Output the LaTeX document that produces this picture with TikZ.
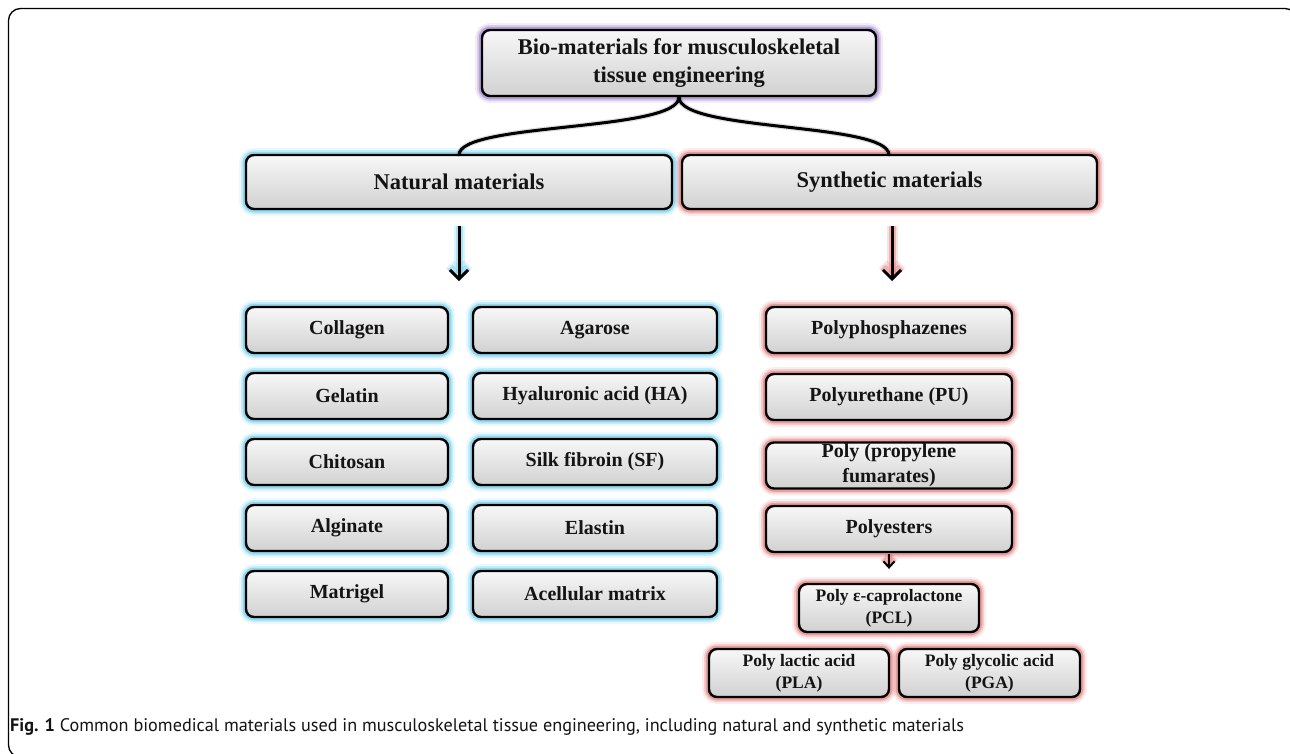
\documentclass[tikz,border=0pt]{standalone}
\usepackage{fontspec}
\setmainfont{Liberation Serif}
\newfontfamily\capfont{PT Sans}
\usetikzlibrary{arrows.meta}
\definecolor{natglow}{RGB}{95,200,235}
\definecolor{synglow}{RGB}{225,110,110}
\definecolor{topglow}{RGB}{150,115,195}
\definecolor{txt}{RGB}{20,20,20}
\tikzset{
  glowbox/.style={draw=black, line width=2.4pt, rounded corners=8pt,
    top color=gray!6, bottom color=gray!36, text=txt, align=center,
    inner sep=0pt, font=\bfseries,
    preaction={draw=#1, line width=14pt, draw opacity=0.12},
    preaction={draw=#1, line width=10pt, draw opacity=0.25},
    preaction={draw=#1, line width=6.5pt, draw opacity=0.5}},
  itemfont/.style={font=\bfseries\fontsize{20}{25}\selectfont},
  natbox/.style={glowbox=natglow, itemfont},
  synbox/.style={glowbox=synglow, itemfont},
  bigarrow/.style={line width=3pt, -{Straight Barb[length=9pt,width=18pt,line width=3pt]},
    preaction={draw=#1, line width=11pt, draw opacity=0.2, -{Straight Barb[length=9pt,width=18pt,line width=11pt]}},
    preaction={draw=#1, line width=7pt, draw opacity=0.4, -{Straight Barb[length=9pt,width=18pt,line width=7pt]}}},
  smallarrow/.style={line width=2pt, -{Straight Barb[length=6pt,width=11pt,line width=2pt]},
    preaction={draw=#1, line width=8pt, draw opacity=0.2, -{Straight Barb[length=6pt,width=11pt,line width=8pt]}},
    preaction={draw=#1, line width=5pt, draw opacity=0.4, -{Straight Barb[length=6pt,width=11pt,line width=5pt]}}},
  bracepath/.style={line width=3pt, line cap=round,
    preaction={draw=black, line width=5.5pt, draw opacity=0.12}},
}
\begin{document}
\begin{tikzpicture}[x=1pt,y=-1pt]
\useasboundingbox (0,0) rectangle (1290,753);
\fill[white] (0,0) rectangle (1290,753);
% frame
\draw[line width=1.3pt, rounded corners=12pt] (8.5,8.5) rectangle (1297,757);

% top
\node[glowbox=topglow, minimum width=394pt, minimum height=66pt,
  font=\bfseries\fontsize{22.5}{28}\selectfont] (top) at (679,63)
  {Bio-materials for musculoskeletal\\tissue engineering};

% categories
\node[glowbox=natglow, minimum width=426pt, minimum height=54pt,
  font=\bfseries\fontsize{22.5}{28}\selectfont] (nat) at (459,182) {Natural materials};
\node[glowbox=synglow, minimum width=415pt, minimum height=54pt,
  font=\bfseries\fontsize{22.5}{28}\selectfont] (syn) at (889.5,182) {Synthetic materials};

% brace
\coordinate (bt) at (679,97);
\coordinate (bl) at (459,155);
\coordinate (br) at (889,155);
\draw[bracepath] (bl) .. controls (459,122) and (679,132) .. (bt);
\draw[bracepath] (br) .. controls (889,122) and (679,132) .. (bt);

% arrows
\coordinate (na1) at (459,226);
\coordinate (na2) at (459,281);
\coordinate (sa1) at (892,226);
\coordinate (sa2) at (892,281);
\draw[bigarrow=natglow] (na1) -- (na2);
\draw[bigarrow=synglow] (sa1) -- (sa2);

% natural items
\foreach \t/\n [count=\i from 0] in {Collagen/n1,Gelatin/n2,Chitosan/n3,Alginate/n4,Matrigel/n5}
  \node[natbox, minimum width=202pt, minimum height=46pt] (\n) at (347,330+66*\i) {\t};
\foreach \t/\n [count=\i from 0] in {Agarose/m1,Hyaluronic acid (HA)/m2,Silk fibroin (SF)/m3,Elastin/m4,Acellular matrix/m5}
  \node[natbox, minimum width=244pt, minimum height=46pt] (\n) at (595,330+66*\i) {\t};

% synthetic items
\node[synbox, minimum width=246pt, minimum height=46pt] (s1) at (889,330) {Polyphosphazenes};
\node[synbox, minimum width=246pt, minimum height=46pt] (s2) at (889,397) {Polyurethane (PU)};
\node[synbox, minimum width=246pt, minimum height=46pt] (s3) at (889,465.5) {Poly (propylene\\fumarates)};
\node[synbox, minimum width=246pt, minimum height=46pt] (s4) at (889,529) {Polyesters};

\node[glowbox=synglow, minimum width=180pt, minimum height=48pt,
  font=\bfseries\fontsize{17.5}{22}\selectfont] (pcl) at (889,608) {Poly ε-caprolactone\\(PCL)};
\node[glowbox=synglow, minimum width=180pt, minimum height=48pt,
  font=\bfseries\fontsize{17.5}{22}\selectfont] (pla) at (799,673) {Poly lactic acid\\(PLA)};
\node[glowbox=synglow, minimum width=181pt, minimum height=48pt,
  font=\bfseries\fontsize{17.5}{22}\selectfont] (pga) at (989.5,673) {Poly glycolic acid\\(PGA)};

\draw[smallarrow=synglow] ([yshift=-1pt]s4.south) -- ([yshift=14pt]pcl.north);

% caption
\node[anchor=base west, inner sep=0pt, font=\capfont\fontsize{18.2}{22}\selectfont, text=txt] (cap) at (10,731)
  {\textbf{Fig. 1} Common biomedical materials used in musculoskeletal tissue engineering, including natural and synthetic materials};
\end{tikzpicture}
\end{document}
